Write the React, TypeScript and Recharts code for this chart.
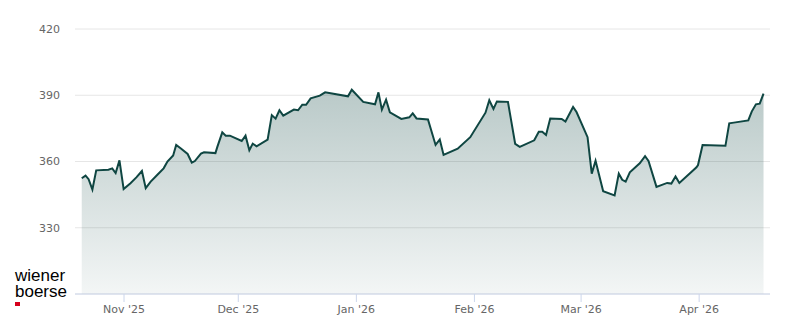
import { AreaChart, Area, XAxis, YAxis, CartesianGrid } from "recharts";

// x = days since 1 Nov 2025
const DAYS = [
  -11.1, -10.1, -9.3, -8.3, -7.3, -4.1, -3.1, -2.2, -1.2, -0.1,
  1.7, 3.3, 4.7, 5.7, 7.0, 8.7, 10.4, 11.4, 12.9, 13.7,
  15.1, 16.7, 17.8, 18.6, 20.2, 21.0, 24.0, 24.5, 25.8, 26.7,
  27.8, 30.9, 31.9, 32.9, 33.8, 34.8, 37.7, 38.8, 39.8, 40.8,
  41.8, 44.6, 45.7, 46.8, 47.8, 49.0, 51.4, 52.8, 58.8, 59.8,
  62.8, 65.9, 66.8, 67.7, 68.8, 69.8, 72.8, 74.9, 75.8, 76.8,
  79.8, 81.8, 82.9, 83.9, 87.6, 90.9, 94.9, 95.9, 97.0, 97.9,
  100.8, 102.7, 103.9, 107.7, 108.9, 109.8, 110.8, 111.9, 114.9, 115.9,
  117.9, 118.8, 121.7, 122.8, 123.8, 125.8, 128.8, 129.9, 130.8, 131.7,
  132.8, 135.4, 136.8, 137.7, 139.8, 142.6, 143.7, 144.8, 145.8, 150.3,
  150.7, 151.9, 157.9, 158.9, 160.1, 163.9, 164.8, 165.9, 166.9, 167.9,
];

const PRICES = [
  352.4, 353.6, 352.0, 347.3, 356.0, 356.3, 356.9, 354.8, 360.5, 347.5,
  350.2, 352.9, 355.7, 347.9, 350.9, 353.9, 356.9, 360.0, 362.7, 367.5,
  365.7, 363.4, 359.5, 360.2, 363.6, 364.2, 363.8, 366.6, 373.2, 371.7,
  371.7, 369.3, 371.7, 365.1, 368.1, 366.9, 369.9, 381.0, 379.4, 383.2,
  380.8, 383.5, 383.2, 385.7, 385.7, 388.6, 389.8, 391.3, 389.5, 392.5,
  387.0, 385.9, 391.3, 383.5, 388.0, 382.3, 379.3, 380.0, 381.8, 379.5,
  379.0, 367.5, 370.0, 363.0, 365.8, 371.0, 382.1, 387.7, 383.8, 387.2,
  387.0, 368.0, 366.6, 369.6, 373.5, 373.5, 372.0, 379.5, 379.3, 378.1,
  384.7, 382.4, 371.0, 354.5, 360.3, 346.5, 344.6, 354.5, 351.7, 350.9,
  355.1, 359.2, 362.4, 360.3, 348.5, 350.3, 350.0, 353.2, 350.3, 357.4,
  358.4, 367.5, 367.1, 377.3, 377.6, 378.6, 382.6, 385.9, 386.2, 390.7,
];

const MONTH_TICKS = [0, 30, 61, 92, 120, 151];
const MONTH_LABELS = ["Nov '25", "Dec '25", "Jan '26", "Feb '26", "Mar '26", "Apr '26"];
const PRICE_TICKS = [330, 360, 390, 420];

const data = DAYS.map((day, i) => ({ day, price: PRICES[i] }));

const LINE = "#0f4642";
const AXIS = "#ccd6eb";
const FONT = "DejaVu Sans, sans-serif";

const logoLine = {
  position: "absolute" as const,
  left: 15,
  height: 15.6,
  fontFamily: "Liberation Sans, Arial, sans-serif",
  fontSize: 17,
  lineHeight: "15.6px",
  color: "#000",
  whiteSpace: "nowrap" as const,
};

export default function App() {
  return (
    <div style={{ position: "absolute", left: 0, top: 0, width: 800, height: 324, background: "#fff", fontFamily: FONT }}>
      <AreaChart width={800} height={324} data={data} margin={{ top: 29, right: 30, left: 0, bottom: 0 }}>
        <defs>
          <linearGradient id="fillGrad" x1="0" y1="0" x2="0" y2="1">
            <stop offset="0%" stopColor={LINE} stopOpacity={0.29} />
            <stop offset="100%" stopColor={LINE} stopOpacity={0.05} />
          </linearGradient>
        </defs>
        <CartesianGrid vertical={false} stroke="#e6e6e6" />
        <XAxis
          dataKey="day"
          type="number"
          domain={[-12.87, 169.6]}
          allowDataOverflow
          ticks={MONTH_TICKS}
          tickFormatter={(v) => MONTH_LABELS[MONTH_TICKS.indexOf(v)] ?? ""}
          height={30}
          tickSize={8}
          tickMargin={3}
          stroke={AXIS}
          tick={{ fontSize: 11, fill: "#666666", fontFamily: FONT }}
        />
        <YAxis
          domain={[300, 420]}
          ticks={PRICE_TICKS}
          allowDataOverflow
          width={75}
          axisLine={false}
          tickLine={false}
          tickMargin={9}
          tick={{ fontSize: 11, fill: "#666666", fontFamily: FONT }}
        />
        <Area
          type="linear"
          dataKey="price"
          stroke={LINE}
          strokeWidth={2}
          fill="url(#fillGrad)"
          fillOpacity={1}
          isAnimationActive={false}
          dot={false}
          activeDot={false}
        />
      </AreaChart>
      <div style={{ ...logoLine, top: 268 }}>wiener</div>
      <div style={{ ...logoLine, top: 283.6 }}>boerse</div>
      <div style={{ position: "absolute", left: 15, top: 302, width: 5, height: 4, background: "#d6001c" }} />
    </div>
  );
}
